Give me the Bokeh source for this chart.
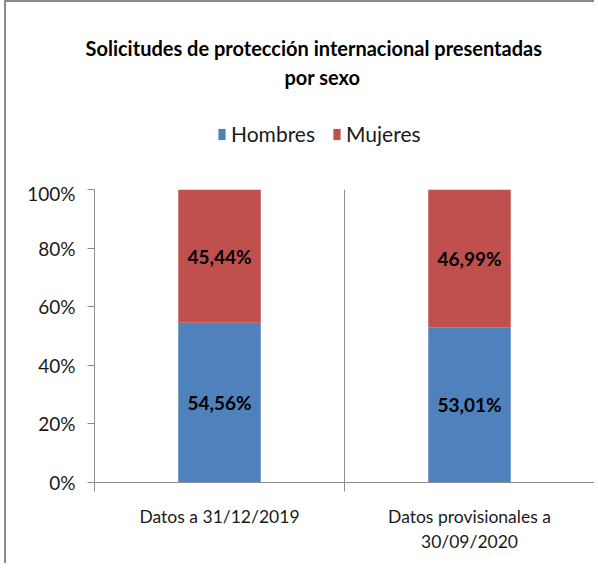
from bokeh.plotting import figure
from bokeh.layouts import column
from bokeh.models import (Range1d, FixedTicker, Legend, LegendItem, Title,
                          ColumnDataSource)
from bokeh.core.properties import value
from bokeh.embed import file_html
from bokeh.resources import INLINE

categories = ["Datos a 31/12/2019", "Datos provisionales a\n30/09/2020"]
hombres = [0.5456, 0.5301]
mujeres = [0.4544, 0.4699]
hombres_lbl = ["54,56%", "53,01%"]
mujeres_lbl = ["45,44%", "46,99%"]
y_ticks = [0, 0.2, 0.4, 0.6, 0.8, 1.0]
y_tick_labels = ["0%", "20%", "40%", "60%", "80%", "100%"]
title_lines = ["Solicitudes de protección internacional presentadas", "por sexo"]
series_names = ["Hombres", "Mujeres"]

BLUE = "#4F81BD"
RED = "#C0504D"
GRAY = "#8c8c8c"
FONT = "Lato"

W = 588
LEFT = 88
TOP_H = 179
HEAD_FRAME_TOP = 86
BOT_H = 382

# ---------- header (title + legend) ----------
head = figure(width=W, height=TOP_H, output_backend="svg", toolbar_location=None,
              title_location=None,
              x_range=Range1d(0, 1), y_range=Range1d(0, 1),
              min_border_left=LEFT, min_border_right=0,
              min_border_top=HEAD_FRAME_TOP, min_border_bottom=0,
              x_axis_type=None, y_axis_type=None)
head.outline_line_color = None
head.grid.visible = False
# title lines: first added sits closest to the frame
head.add_layout(Title(text=title_lines[1], align="left", offset=190, standoff=0,
                      text_font=FONT, text_font_style="bold",
                      text_font_size="20px", text_color="#000000"), "above")
head.add_layout(Title(text=title_lines[0], align="left", offset=-9, standoff=6,
                      text_font=FONT, text_font_style="bold",
                      text_font_size="20px", text_color="#000000"), "above")
# legend swatches: zero-size bars, only their legend glyph shows
lh = head.vbar(x=[0.5], top=[0], bottom=0, width=0, fill_color=BLUE, line_color=None)
lm = head.vbar(x=[0.5], top=[0], bottom=0, width=0, fill_color=RED, line_color=None)
legend = Legend(items=[LegendItem(label=series_names[0], renderers=[lh]),
                       LegendItem(label=series_names[1], renderers=[lm])],
                orientation="horizontal", location=(123, 35),
                label_text_font=FONT, label_text_font_size="21px",
                label_text_color="#1a1a1a",
                glyph_width=9, glyph_height=14, label_standoff=5, spacing=17,
                border_line_color=None, background_fill_alpha=0, padding=0,
                margin=0)
head.add_layout(legend, "center")

# ---------- chart ----------
xs = [i + 0.5 for i in range(len(categories))]
src = ColumnDataSource(dict(
    x=xs,
    h=hombres,
    m_bottom=hombres,
    m_top=[a + b for a, b in zip(hombres, mujeres)],
    h_mid=[a / 2 for a in hombres],
    m_mid=[a + b / 2 for a, b in zip(hombres, mujeres)],
    h_lbl=hombres_lbl,
    m_lbl=mujeres_lbl,
))

p = figure(width=W, height=BOT_H, output_backend="svg", toolbar_location=None,
           x_range=Range1d(0, len(categories)), y_range=Range1d(0, 1),
           min_border_left=LEFT, min_border_right=0, min_border_top=8,
           min_border_bottom=81)
p.outline_line_color = None

p.vbar(x="x", top="h", bottom=0, width=0.33, source=src, fill_color=BLUE, line_color=None)
p.vbar(x="x", top="m_top", bottom="m_bottom", width=0.33, source=src, fill_color=RED, line_color=None)

for col_y, col_t in (("h_mid", "h_lbl"), ("m_mid", "m_lbl")):
    p.text(x="x", y=col_y, text=col_t, source=src, text_align="center",
           text_baseline="middle", text_font=value(FONT), text_font_style="bold",
           text_font_size="19px", text_color="#000000")

p.ygrid.visible = False
p.xgrid.ticker = FixedTicker(ticks=list(range(1, len(categories) + 1)))
p.xgrid.grid_line_color = GRAY
p.xgrid.grid_line_width = 1

p.xaxis.ticker = FixedTicker(ticks=xs, minor_ticks=list(range(0, len(categories) + 1)))
p.xaxis.major_label_overrides = {x: c for x, c in zip(xs, categories)}
p.xaxis.major_tick_out = 0
p.xaxis.major_tick_in = 0
p.xaxis.minor_tick_out = 9
p.xaxis.minor_tick_in = 0
p.xaxis.minor_tick_line_color = GRAY
p.xaxis.axis_line_color = GRAY
p.xaxis.major_label_text_font = FONT
p.xaxis.major_label_text_font_size = "17.5px"
p.xaxis.major_label_text_color = "#1a1a1a"
p.xaxis.major_label_text_line_height = 1.23
p.xaxis.major_label_standoff = 14

p.yaxis.ticker = FixedTicker(ticks=y_ticks)
p.yaxis.major_label_overrides = {t: l for t, l in zip(y_ticks, y_tick_labels)}
p.yaxis.major_tick_out = 7
p.yaxis.major_tick_in = 0
p.yaxis.minor_tick_line_color = None
p.yaxis.axis_line_color = GRAY
p.yaxis.major_tick_line_color = GRAY
p.yaxis.major_label_text_font = FONT
p.yaxis.major_label_text_font_size = "19px"
p.yaxis.major_label_text_color = "#1a1a1a"
p.yaxis.major_label_standoff = 12

layout = column(head, p, spacing=0)
layout.styles = {"margin-left": "4px", "border-left": "2px solid #8a8a8a",
                 "border-top": "2px solid #8a8a8a"}

open("out.html", "w").write(file_html(layout, INLINE))
